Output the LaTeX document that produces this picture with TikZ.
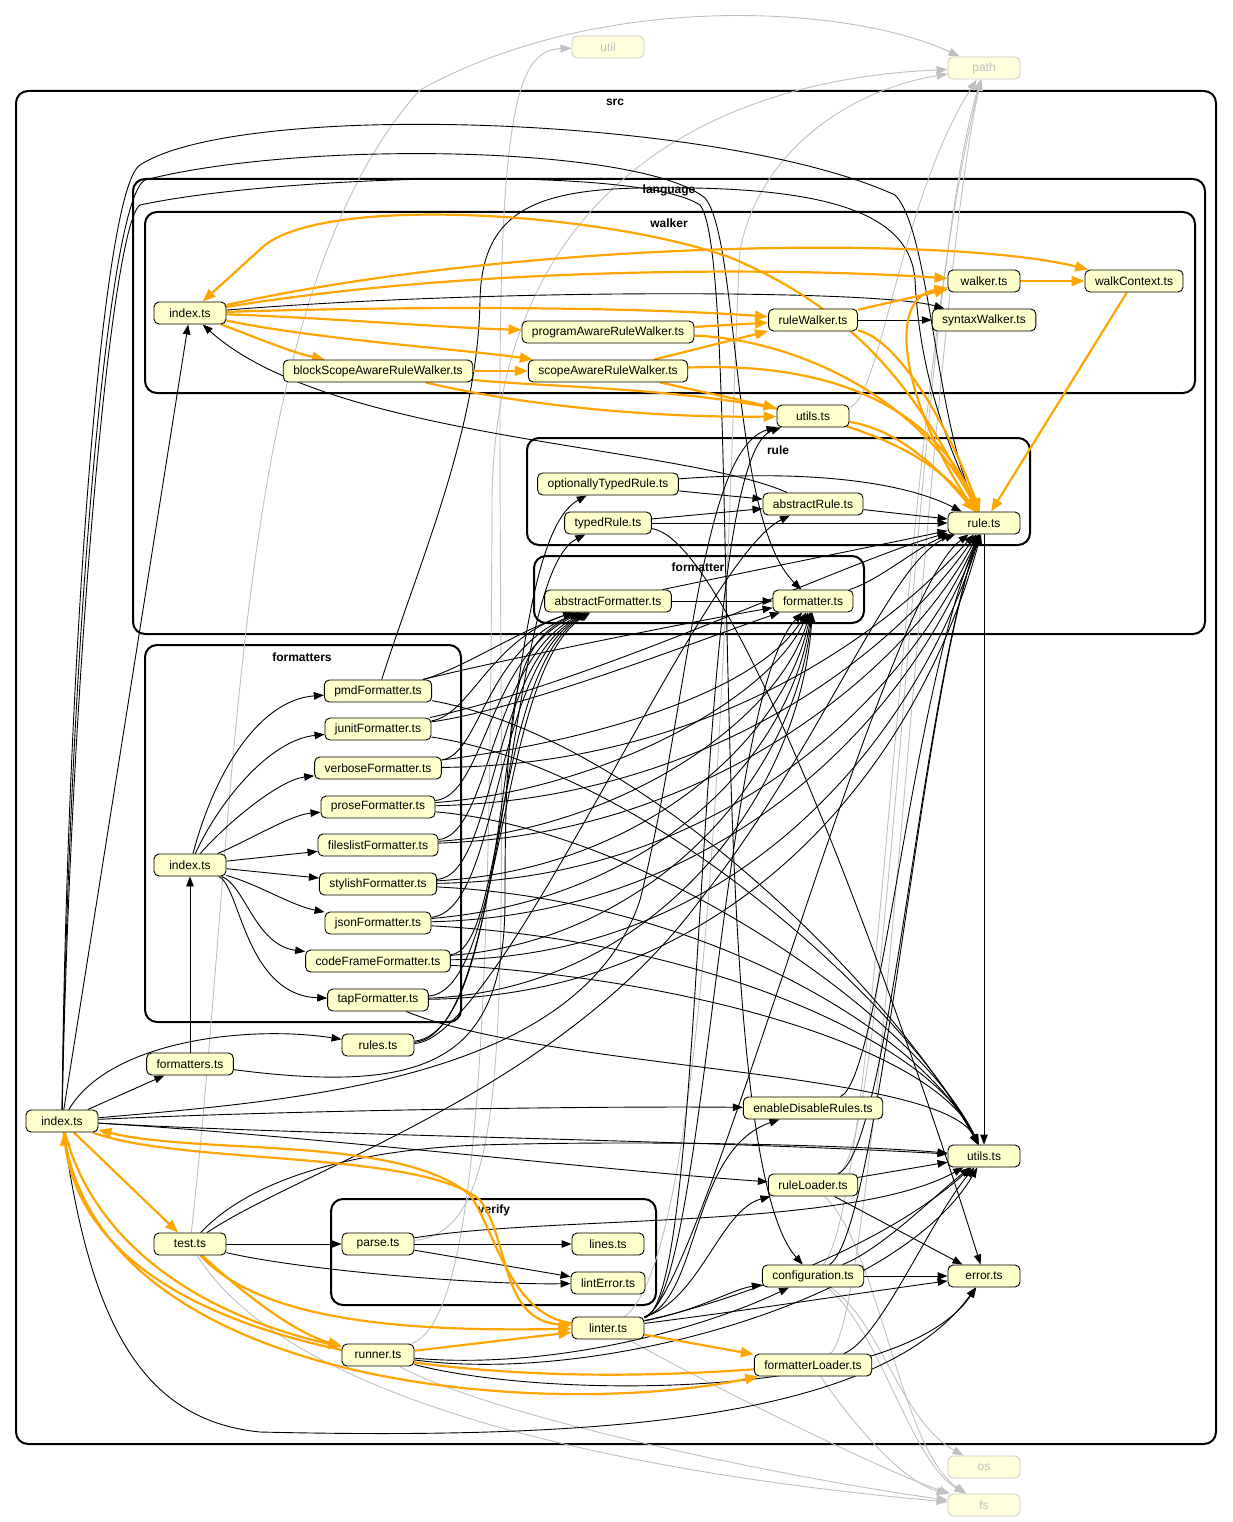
\documentclass[tikz,border=0pt]{standalone}
\usepackage{fontspec}
\setmainfont{Liberation Sans}
\usepackage{tikz}
\usetikzlibrary{arrows.meta, backgrounds}

\definecolor{nodefill}{HTML}{FFFFCC}
\definecolor{cycorange}{HTML}{FFA500}
\definecolor{extgray}{HTML}{C0C0C0}

\begin{document}
\begin{tikzpicture}[
  x=1pt, y=-1pt,
  every node/.style = {font=\fontsize{12}{14}\selectfont},
  module/.style = {
    rectangle, rounded corners=5pt,
    draw=black, line width=0.9pt, fill=nodefill,
    minimum width=72pt, minimum height=22pt,
    inner xsep=10pt, inner ysep=0pt
  },
  extmod/.style = {module, draw=extgray!80, fill=nodefill!70!white, text=extgray},
  cluster/.style = {draw=black, line width=2pt, rounded corners=12pt},
  clabel/.style = {font=\bfseries\fontsize{12}{14}\selectfont},
  dep/.style = {-{Triangle[length=10pt, width=7.5pt]}, line width=0.9pt, black},
  cyc/.style = {-{Triangle[length=13pt, width=10pt]}, line width=2.2pt, cycorange},
  ext/.style = {-{Triangle[length=11pt, width=8pt]}, line width=0.9pt, extgray}
]
\useasboundingbox (0,0) rectangle (1232,1522);

% Clusters
\begin{scope}[on background layer]
\draw[cluster] (16,91) rectangle (1216,1444);
\draw[cluster] (133,179) rectangle (1205,634);
\draw[cluster] (145,212) rectangle (1195,393);
\draw[cluster] (527,438) rectangle (1030,545);
\draw[cluster] (534,556) rectangle (864,623);
\draw[cluster] (145,645) rectangle (461,1022);
\draw[cluster] (331,1199) rectangle (656,1305);
\node[clabel] (lblSrc) at (615,102) {src};
\node[clabel] (lblLanguage) at (669,190) {language};
\node[clabel] (lblWalker) at (669,223) {walker};
\node[clabel] (lblRule) at (778,450) {rule};
\node[clabel] (lblFormatter) at (698,567) {formatter};
\node[clabel] (lblFormatters) at (302,657) {formatters};
\node[clabel] (lblVerify) at (494,1210) {verify};
\end{scope}

% External modules
\node[extmod] (util) at (608,47) {util};
\node[extmod] (path) at (984,68) {path};
\node[extmod] (os) at (984,1467) {os};
\node[extmod] (fs) at (984,1505) {fs};

% language/walker
\node[module] (wIndex) at (190,313) {index.ts};
\node[module] (walkerTs) at (984,281) {walker.ts};
\node[module] (walkCtx) at (1134,281) {walkContext.ts};
\node[module] (ruleWalker) at (813,320) {ruleWalker.ts};
\node[module] (syntaxWalker) at (984,320) {syntaxWalker.ts};
\node[module] (progAware) at (608,332) {programAwareRuleWalker.ts};
\node[module] (blockScope) at (378,371) {blockScopeAwareRuleWalker.ts};
\node[module] (scopeAware) at (608,371) {scopeAwareRuleWalker.ts};
\node[module] (langUtils) at (813,416) {utils.ts};

% language/rule
\node[module] (optTyped) at (608,484) {optionallyTypedRule.ts};
\node[module] (typedRule) at (608,523) {typedRule.ts};
\node[module] (abstractRule) at (813,504) {abstractRule.ts};
\node[module] (ruleTs) at (984,523) {rule.ts};

% language/formatter
\node[module] (abstractFmt) at (608,601) {abstractFormatter.ts};
\node[module] (formatterTs) at (813,601) {formatter.ts};

% formatters
\node[module] (pmdFmt) at (378,691) {pmdFormatter.ts};
\node[module] (junitFmt) at (378,729) {junitFormatter.ts};
\node[module] (verboseFmt) at (378,768) {verboseFormatter.ts};
\node[module] (proseFmt) at (378,807) {proseFormatter.ts};
\node[module] (fileslistFmt) at (378,845) {fileslistFormatter.ts};
\node[module] (stylishFmt) at (378,884) {stylishFormatter.ts};
\node[module] (jsonFmt) at (378,923) {jsonFormatter.ts};
\node[module] (codeFrameFmt) at (378,961) {codeFrameFormatter.ts};
\node[module] (tapFmt) at (378,1000) {tapFormatter.ts};
\node[module] (fIndex) at (190,865) {index.ts};

% src
\node[module] (rulesTs) at (378,1045) {rules.ts};
\node[module] (formattersTs) at (190,1064) {formatters.ts};
\node[module] (srcIndex) at (62,1121) {index.ts};
\node[module] (enableDisable) at (813,1108) {enableDisableRules.ts};
\node[module] (utilsTs) at (984,1156) {utils.ts};
\node[module] (ruleLoader) at (813,1185) {ruleLoader.ts};
\node[module] (testTs) at (190,1244) {test.ts};
\node[module] (configuration) at (813,1276) {configuration.ts};
\node[module] (errorTs) at (984,1276) {error.ts};
\node[module] (linter) at (608,1328) {linter.ts};
\node[module] (runner) at (378,1355) {runner.ts};
\node[module] (fmtLoader) at (813,1365) {formatterLoader.ts};

% src/verify
\node[module] (parse) at (378,1244) {parse.ts};
\node[module] (lines) at (608,1244) {lines.ts};
\node[module] (lintError) at (608,1283) {lintError.ts};

\begin{scope}[on background layer]
% External dependencies
\draw[ext] (testTs) .. controls (240,800) and (230,300) .. (420,90) .. controls (600,-10) and (850,5) .. (path);
\draw[ext] (testTs) .. controls (300,1420) and (700,1480) .. (fs);
\draw[ext] (parse) .. controls (520,1230) and (500,1000) .. (500,400) .. controls (500,100) and (520,50) .. (util);
\draw[ext] (runner) .. controls (480,1320) and (490,1000) .. (492,500) .. controls (495,200) and (700,80) .. (path);
\draw[ext] (linter) .. controls (720,1250) and (730,400) .. (740,250) .. controls (760,150) and (850,90) .. (path);
\draw[ext] (langUtils) .. controls (880,400) and (900,200) .. (path);
\draw[ext] (configuration) .. controls (880,1200) and (900,400) .. (path);
\draw[ext] (ruleLoader) .. controls (890,1150) and (915,300) .. (path);
\draw[ext] (fmtLoader) .. controls (880,1320) and (930,300) .. (path);
\draw[ext] (configuration) .. controls (880,1320) and (900,1420) .. (os);
\draw[ext] (configuration) .. controls (880,1330) and (910,1460) .. (fs);
\draw[ext] (ruleLoader) .. controls (880,1250) and (900,1450) .. (fs);
\draw[ext] (fmtLoader) .. controls (850,1420) and (900,1480) .. (fs);
\draw[ext] (linter) .. controls (700,1380) and (880,1470) .. (fs);
\draw[ext] (runner) .. controls (500,1420) and (800,1480) .. (fs);

% language
\draw[dep] (wIndex) .. controls (500,288) and (880,290) .. (syntaxWalker);
\draw[dep] (ruleWalker) -- (syntaxWalker);
\draw[dep] (abstractRule) .. controls (680,445) and (330,440) .. (wIndex);
\draw[dep] (abstractRule) -- (ruleTs);
\draw[dep] (optTyped) -- (abstractRule);
\draw[dep] (optTyped) .. controls (800,470) and (900,480) .. (ruleTs);
\draw[dep] (typedRule) -- (abstractRule);
\draw[dep] (typedRule) -- (ruleTs);
\draw[dep] (typedRule) .. controls (740,540) and (930,1100) .. (errorTs);
\draw[dep] (abstractFmt) -- (formatterTs);
\draw[dep] (abstractFmt) .. controls (780,565) and (880,545) .. (ruleTs);
\draw[dep] (formatterTs) .. controls (880,580) and (920,545) .. (ruleTs);
\draw[dep] (ruleTs) -- (utilsTs);

% formatters/index.ts
\draw[dep] (fIndex) .. controls (215,770) and (260,700) .. (pmdFmt);
\draw[dep] (fIndex) .. controls (220,800) and (270,740) .. (junitFmt);
\draw[dep] (fIndex) .. controls (230,820) and (280,780) .. (verboseFmt);
\draw[dep] (fIndex) .. controls (250,840) and (290,815) .. (proseFmt);
\draw[dep] (fIndex) -- (fileslistFmt);
\draw[dep] (fIndex) -- (stylishFmt);
\draw[dep] (fIndex) .. controls (260,885) and (290,905) .. (jsonFmt);
\draw[dep] (fIndex) .. controls (245,885) and (255,945) .. (codeFrameFmt);
\draw[dep] (fIndex) .. controls (240,885) and (245,995) .. (tapFmt);

% formatters -> abstractFormatter
\draw[dep] (pmdFmt) .. controls (460,670) and (520,630) .. (abstractFmt);
\draw[dep] (junitFmt) .. controls (470,715) and (490,640) .. (abstractFmt);
\draw[dep] (verboseFmt) .. controls (480,755) and (485,650) .. (abstractFmt);
\draw[dep] (proseFmt) .. controls (485,795) and (488,655) .. (abstractFmt);
\draw[dep] (fileslistFmt) .. controls (490,835) and (490,660) .. (abstractFmt);
\draw[dep] (stylishFmt) .. controls (495,875) and (490,665) .. (abstractFmt);
\draw[dep] (jsonFmt) .. controls (500,910) and (492,668) .. (abstractFmt);
\draw[dep] (codeFrameFmt) .. controls (505,950) and (495,670) .. (abstractFmt);
\draw[dep] (tapFmt) .. controls (505,990) and (498,672) .. (abstractFmt);

% formatters -> formatter
\draw[dep] (pmdFmt) .. controls (500,660) and (700,620) .. (formatterTs);
\draw[dep] (junitFmt) .. controls (520,710) and (700,640) .. (formatterTs);
\draw[dep] (verboseFmt) .. controls (600,740) and (760,690) .. (formatterTs);
\draw[dep] (proseFmt) .. controls (600,790) and (770,700) .. (formatterTs);
\draw[dep] (fileslistFmt) .. controls (620,830) and (780,720) .. (formatterTs);
\draw[dep] (stylishFmt) .. controls (640,870) and (785,740) .. (formatterTs);
\draw[dep] (jsonFmt) .. controls (650,900) and (790,760) .. (formatterTs);
\draw[dep] (codeFrameFmt) .. controls (650,940) and (795,780) .. (formatterTs);
\draw[dep] (tapFmt) .. controls (650,990) and (800,800) .. (formatterTs);

% formatters -> rule
\draw[dep] (pmdFmt) .. controls (420,560) and (478,430) .. (480,300) .. controls (482,215) and (530,190) .. (640,188) .. controls (820,185) and (910,210) .. (915,280) .. controls (920,380) and (950,450) .. (ruleTs);
\draw[dep] (junitFmt) .. controls (600,680) and (850,560) .. (ruleTs);
\draw[dep] (verboseFmt) .. controls (700,765) and (880,640) .. (ruleTs);
\draw[dep] (proseFmt) .. controls (700,800) and (890,660) .. (ruleTs);
\draw[dep] (fileslistFmt) .. controls (700,835) and (900,680) .. (ruleTs);
\draw[dep] (stylishFmt) .. controls (720,880) and (905,700) .. (ruleTs);
\draw[dep] (jsonFmt) .. controls (720,915) and (910,720) .. (ruleTs);
\draw[dep] (codeFrameFmt) .. controls (740,955) and (915,740) .. (ruleTs);
\draw[dep] (tapFmt) .. controls (740,995) and (920,760) .. (ruleTs);

% formatters -> utils
\draw[dep] (pmdFmt) .. controls (650,740) and (900,1000) .. (utilsTs);
\draw[dep] (junitFmt) .. controls (650,770) and (910,1010) .. (utilsTs);
\draw[dep] (proseFmt) .. controls (650,830) and (920,1020) .. (utilsTs);
\draw[dep] (stylishFmt) .. controls (700,900) and (920,1030) .. (utilsTs);
\draw[dep] (jsonFmt) .. controls (700,940) and (930,1040) .. (utilsTs);
\draw[dep] (codeFrameFmt) .. controls (700,980) and (935,1050) .. (utilsTs);
\draw[dep] (tapFmt) .. controls (550,1070) and (940,1070) .. (utilsTs);

% rules.ts and formatters.ts
\draw[dep] (rulesTs) .. controls (520,1030) and (495,545) .. (optTyped);
\draw[dep] (rulesTs) .. controls (510,1035) and (505,575) .. (typedRule);
\draw[dep] (rulesTs) .. controls (500,1040) and (700,560) .. (abstractRule);
\draw[dep] (formattersTs) -- (fIndex);
\draw[dep] (formattersTs) .. controls (430,1095) and (505,1060) .. (505,900) .. controls (505,700) and (515,640) .. (abstractFmt);

% src/index.ts
\draw[dep] (srcIndex) -- (formattersTs);
\draw[dep] (srcIndex) .. controls (110,1040) and (250,1025) .. (rulesTs);
\draw[dep] (srcIndex) -- (wIndex);
\draw[dep] (srcIndex) .. controls (66,700) and (100,190) .. (140,165) .. controls (240,100) and (720,115) .. (895,195) .. controls (930,230) and (935,420) .. (ruleTs);
\draw[dep] (srcIndex) .. controls (68,700) and (105,200) .. (145,180) .. controls (300,140) and (640,145) .. (705,198) .. controls (740,240) and (730,520) .. (formatterTs);
\draw[dep] (srcIndex) .. controls (70,700) and (110,225) .. (140,205) .. controls (280,175) and (640,165) .. (700,205) .. controls (745,260) and (700,1150) .. (configuration);
\draw[dep] (srcIndex) .. controls (300,1100) and (580,1080) .. (640,900) .. controls (690,700) and (700,450) .. (langUtils);
\draw[dep] (srcIndex) .. controls (300,1110) and (600,1106) .. (enableDisable);
\draw[dep] (srcIndex) .. controls (300,1135) and (700,1140) .. (utilsTs);
\draw[dep] (srcIndex) .. controls (300,1135) and (600,1170) .. (ruleLoader);
\draw[dep] (srcIndex) .. controls (90,1320) and (140,1420) .. (260,1432) .. controls (600,1440) and (880,1420) .. (errorTs);

% test.ts and verify
\draw[dep] (testTs) -- (parse);
\draw[dep] (testTs) .. controls (300,1270) and (480,1285) .. (lintError);
\draw[dep] (testTs) .. controls (250,1180) and (350,1150) .. (480,1145) .. controls (650,1140) and (850,1145) .. (utilsTs);
\draw[dep] (testTs) .. controls (300,1170) and (560,1090) .. (700,900) .. controls (820,750) and (890,560) .. (ruleTs);
\draw[dep] (parse) -- (lines);
\draw[dep] (parse) -- (lintError);
\draw[dep] (parse) .. controls (550,1215) and (850,1230) .. (utilsTs);

% linter.ts
\draw[dep] (linter) .. controls (700,1300) and (690,1150) .. (enableDisable);
\draw[dep] (linter) .. controls (710,1300) and (690,460) .. (langUtils);
\draw[dep] (linter) .. controls (705,1300) and (720,700) .. (formatterTs);
\draw[dep] (linter) .. controls (700,1300) and (880,600) .. (ruleTs);
\draw[dep] (linter) .. controls (700,1300) and (720,1210) .. (ruleLoader);
\draw[dep] (linter) .. controls (700,1310) and (730,1290) .. (configuration);
\draw[dep] (linter) .. controls (750,1310) and (880,1290) .. (errorTs);
\draw[dep] (linter) .. controls (720,1305) and (880,1250) .. (utilsTs);

% runner.ts
\draw[dep] (runner) .. controls (550,1370) and (700,1330) .. (configuration);
\draw[dep] (runner) .. controls (600,1385) and (900,1300) .. (utilsTs);
\draw[dep] (runner) .. controls (550,1400) and (900,1400) .. (errorTs);

% loaders and configuration
\draw[dep] (configuration) -- (errorTs);
\draw[dep] (configuration) .. controls (880,1250) and (930,1200) .. (utilsTs);
\draw[dep] (configuration) .. controls (880,1230) and (920,700) .. (ruleTs);
\draw[dep] (ruleLoader) -- (utilsTs);
\draw[dep] (ruleLoader) -- (errorTs);
\draw[dep] (ruleLoader) .. controls (890,1150) and (920,700) .. (ruleTs);
\draw[dep] (fmtLoader) .. controls (880,1340) and (930,1220) .. (utilsTs);
\draw[dep] (enableDisable) .. controls (880,1080) and (910,700) .. (ruleTs);

% Circular dependencies
\draw[cyc] (wIndex) .. controls (480,265) and (800,268) .. (walkerTs);
\draw[cyc] (wIndex) .. controls (520,240) and (950,235) .. (walkCtx);
\draw[cyc] (wIndex) .. controls (450,305) and (650,308) .. (ruleWalker);
\draw[cyc] (wIndex) .. controls (330,318) and (450,328) .. (progAware);
\draw[cyc] (wIndex) .. controls (320,340) and (470,350) .. (scopeAware);
\draw[cyc] (wIndex) .. controls (250,335) and (290,352) .. (blockScope);
\draw[cyc] (ruleTs) .. controls (930,420) and (880,320) .. (729,257) .. controls (600,212) and (330,195) .. (265,245) -- (wIndex);
\draw[cyc] (ruleTs) .. controls (910,420) and (880,300) .. (walkerTs);
\draw[cyc] (walkerTs) -- (walkCtx);
\draw[cyc] (walkCtx) -- (ruleTs);
\draw[cyc] (ruleWalker) -- (walkerTs);
\draw[cyc] (ruleWalker) .. controls (900,340) and (950,430) .. (ruleTs);
\draw[cyc] (progAware) -- (ruleWalker);
\draw[cyc] (progAware) .. controls (800,340) and (920,400) .. (ruleTs);
\draw[cyc] (scopeAware) -- (ruleWalker);
\draw[cyc] (scopeAware) .. controls (820,362) and (930,400) .. (ruleTs);
\draw[cyc] (scopeAware) -- (langUtils);
\draw[cyc] (blockScope) -- (scopeAware);
\draw[cyc] (blockScope) .. controls (520,405) and (650,418) .. (langUtils);
\draw[cyc] (blockScope) .. controls (600,392) and (880,385) .. (ruleTs);
\draw[cyc] (langUtils) .. controls (900,430) and (940,470) .. (ruleTs);

\draw[cyc] (srcIndex) -- (testTs);
\draw[cyc] (testTs) .. controls (250,1300) and (300,1335) .. (runner);
\draw[cyc] (testTs) .. controls (260,1320) and (400,1332) .. (linter);
\draw[cyc] (runner) -- (linter);
\draw[cyc] (linter) -- (fmtLoader);
\draw[cyc] (srcIndex) .. controls (180,1165) and (420,1150) .. (480,1200) .. controls (510,1240) and (500,1320) .. (linter);
\draw[cyc] (linter) .. controls (510,1315) and (495,1230) .. (470,1195) .. controls (400,1135) and (200,1155) .. (srcIndex);
\draw[cyc] (srcIndex) .. controls (90,1230) and (180,1310) .. (runner);
\draw[cyc] (fmtLoader) .. controls (400,1395) and (90,1330) .. (srcIndex);
\draw[cyc] (srcIndex) .. controls (100,1390) and (550,1420) .. (fmtLoader);
\end{scope}

\end{tikzpicture}
\end{document}
